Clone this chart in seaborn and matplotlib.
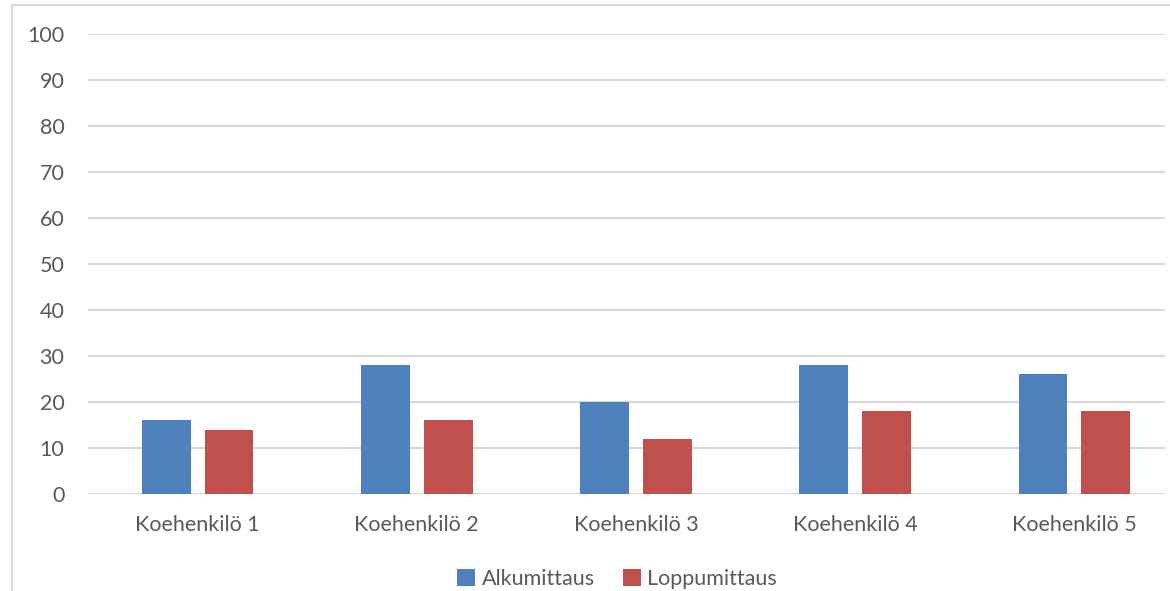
import pandas as pd
import matplotlib.pyplot as plt
import seaborn as sns
from matplotlib.patches import Rectangle, Patch

# data
subjects = ['Koehenkilö 1', 'Koehenkilö 2', 'Koehenkilö 3', 'Koehenkilö 4', 'Koehenkilö 5']
alku = [16, 28, 20, 28, 26]
loppu = [14, 16, 12, 18, 18]
series = ['Alkumittaus', 'Loppumittaus']
colors = ['#4F81BD', '#C0504D']
yticks = list(range(0, 101, 10))

df = pd.DataFrame({
    'subject': subjects * 2,
    'value': alku + loppu,
    'series': [series[0]] * len(subjects) + [series[1]] * len(subjects),
})

sns.set_style('white')
plt.rcParams['font.family'] = ['Lato', 'DejaVu Sans']
text_color = '#595959'
grid_color = '#d9d9d9'
fs = 15.5

W, H = 1170, 591
fig = plt.figure(figsize=(W / 100, H / 100), dpi=100)

# outer chart border (cropped at right and bottom in the reference)
fig.patches.append(Rectangle((12 / W, -0.1), 1.2, 1 - 5 / H + 0.1, transform=fig.transFigure,
                             fill=False, edgecolor=grid_color, linewidth=1.5, zorder=0))

ax = fig.add_axes([88 / W, 1 - 494 / H, (1165 - 88) / W, 460 / H])
sns.barplot(data=df, x='subject', y='value', hue='series', palette=colors,
            width=0.574, gap=0.223, saturation=1, ax=ax, legend=False,
            edgecolor='none', zorder=3)

ax.set_ylim(0, 100)
ax.set_yticks(yticks)
ax.set_xlim(-0.5, 4.5 - 19 / 219)
ax.set_xlabel('')
ax.set_ylabel('')
ax.yaxis.grid(True, color=grid_color, linewidth=1.5, zorder=0)
ax.set_axisbelow(True)
for s in ['top', 'right', 'left', 'bottom']:
    ax.spines[s].set_visible(False)
ax.tick_params(axis='y', length=0, pad=17, labelsize=fs, labelcolor=text_color)
ax.tick_params(axis='x', length=0, pad=15, labelsize=fs, labelcolor=text_color)

handles = [Patch(facecolor=c, edgecolor='none') for c in colors]
fig.legend(handles, series, loc='center', bbox_to_anchor=(617 / W, 1 - 579 / H),
           ncol=2, frameon=False, fontsize=15.5, labelcolor=text_color,
           handlelength=0.85, handleheight=0.85, handletextpad=0.3, columnspacing=1.3)

fig.savefig('out.png', dpi=100)
